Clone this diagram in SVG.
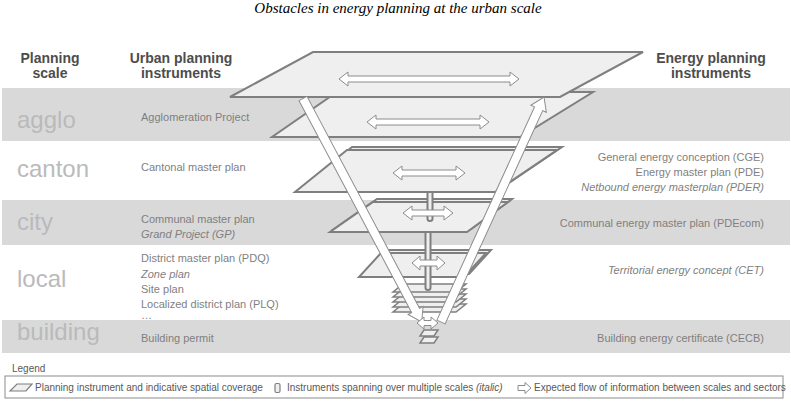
<svg xmlns="http://www.w3.org/2000/svg" width="791" height="402" viewBox="0 0 791 402">
<style>
.band{fill:#d9d9d9}
.pl{fill:#efefef;stroke:#7f7f7f;stroke-width:2;stroke-linejoin:miter}
.pt{fill:#efefef;stroke:#7f7f7f;stroke-width:1.5}
.pil{fill:#efefef;stroke:#7f7f7f;stroke-width:2}
.arr{fill:#fff;stroke:#8c8c8c;stroke-width:1;stroke-linejoin:miter}
text{font-family:"Liberation Sans",Arial,sans-serif}
.title{font-family:"Liberation Serif","Times New Roman",serif;font-style:italic;font-size:15px;fill:#000}
.hdr{font-weight:bold;font-size:14px;fill:#4d4d4d;text-anchor:middle}
.scale{font-size:24px;fill:#bababa}
.inst{font-size:11px;fill:#7f7f7f}
.r{text-anchor:end}
.it{font-style:italic}
.leg{font-size:10px;fill:#595959}
</style>
<g id="bands">
<rect class="band" x="2" y="88" width="788" height="53"/>
<rect class="band" x="2" y="200" width="788" height="45"/>
<rect class="band" x="2" y="320" width="788" height="33"/>
</g>
<text class="title" x="398" y="13" text-anchor="middle">Obstacles in energy planning at the urban scale</text>
<g id="headers">
<text class="hdr" x="50" y="63">Planning</text>
<text class="hdr" x="50" y="78">scale</text>
<text class="hdr" x="181" y="63">Urban planning</text>
<text class="hdr" x="181" y="78">instruments</text>
<text class="hdr" x="711" y="63">Energy planning</text>
<text class="hdr" x="711" y="78">instruments</text>
</g>
<g id="scales">
<text class="scale" x="17" y="128">agglo</text>
<text class="scale" x="17" y="177">canton</text>
<text class="scale" x="17" y="230">city</text>
<text class="scale" x="17" y="287">local</text>
<text class="scale" x="17" y="340">building</text>
</g>
<g id="urban-instruments">
<text class="inst" x="141" y="121">Agglomeration Project</text>
<text class="inst" x="141" y="171">Cantonal master plan</text>
<text class="inst" x="141" y="223">Communal master plan</text>
<text class="inst it" x="141" y="238">Grand Project (GP)</text>
<text class="inst" x="141" y="262">District master plan (PDQ)</text>
<text class="inst it" x="141" y="278">Zone plan</text>
<text class="inst" x="141" y="293">Site plan</text>
<text class="inst" x="141" y="308">Localized district plan (PLQ)</text>
<text class="inst" x="141" y="319" font-size="9">…</text>
<text class="inst" x="141" y="342">Building permit</text>
</g>
<g id="energy-instruments">
<text class="inst r" x="764" y="161">General energy conception (CGE)</text>
<text class="inst r" x="764" y="176">Energy master plan (PDE)</text>
<text class="inst r it" x="764" y="191">Netbound energy masterplan (PDER)</text>
<text class="inst r" x="764" y="227">Communal energy master plan (PDEcom)</text>
<text class="inst r it" x="764" y="274">Territorial energy concept (CET)</text>
<text class="inst r" x="764" y="342">Building energy certificate (CECB)</text>
</g>
<g id="plane-building">
<polygon class="pt" points="424,330 438,330 434,336 420,336"/>
<polygon class="pt" points="424,337 438,337 434,343 420,343"/>
</g>
<g id="plane-local-sub">
<polygon class="pt" points="403,304 466,304 456,312 393,312"/>
<polygon class="pt" points="403,299 466,299 456,307 393,307"/>
<polygon class="pt" points="403,294 466,294 456,302 393,302"/>
<polygon class="pt" points="403,289 466,289 456,297 393,297"/>
<polygon class="pt" points="403,284 466,284 456,292 393,292"/>
</g>
<g id="plane-local">
<polygon class="pl" points="386,250 491,250 469,274 364,274"/>
<polygon class="pl" points="381,253 486,253 464,277 359,277"/>
</g>
<rect id="pillar-lower" class="pil" x="425.5" y="228" width="5" height="62" rx="2.5"/>
<g id="plane-city">
<polygon class="pl" points="377,199 512,199 471,229 334,229"/>
<polygon class="pl" points="373,202 508,202 467,232 330,232"/>
</g>
<rect id="pillar-upper" class="pil" x="427.5" y="188" width="5" height="33" rx="2.5"/>
<g id="plane-canton">
<polygon class="pl" points="352,147 562,147 500,189 300,189"/>
<polygon class="pl" points="347,150 557,150 495,192 295,192"/>
</g>
<g id="plane-agglo">
<polygon class="pl" points="337,92 593,92 520,137 272,137"/>
</g>
<g id="plane-top">
<polygon class="pl" points="313,52 643,52 560,97 230,97"/>
</g>
<g id="connectors">
<path class="arr" transform="translate(303,98.5) rotate(62.02)" d="M0,-4.5 H240 V-8.5 L253,0 L240,8.5 V4.5 H0 Z"/>
<path class="arr" transform="translate(441,322) rotate(-65.4)" d="M0,-4.5 H234.5 V-8.5 L247.5,0 L234.5,8.5 V4.5 H0 Z"/>
<path class="arr" d="M339,79 L348,72 V76 H510 V72 L519,79 L510,86 V82 H348 V86 Z"/>
<path class="arr" d="M367,122 L376,115 V119 H480 V115 L489,122 L480,129 V125 H376 V129 Z"/>
<path class="arr" d="M393,173 L402,166 V170 H456 V166 L465,173 L456,180 V176 H402 V180 Z"/>
<path class="arr" d="M403,213 L412,206 V210 H444 V206 L453,213 L444,220 V216 H412 V220 Z"/>
<path class="arr" d="M412,263 L420,256 V260 H437 V256 L445,263 L437,270 V266 H420 V270 Z"/>
<path class="arr" d="M417,323 L424,317 V320.5 H431 V317 L438,323 L431,329 V325.5 H424 V329 Z"/>
</g>
<g id="legend">
<text class="leg" x="12" y="372">Legend</text>
<rect x="5" y="376" width="778" height="22" fill="#fff" stroke="#8c8c8c" stroke-width="1"/>
<polygon points="17,384 32,384 26,391 10,391" fill="#efefef" stroke="#7f7f7f" stroke-width="1.2"/>
<text class="leg" x="35" y="391">Planning instrument and indicative spatial coverage</text>
<rect x="275" y="383.5" width="5" height="9" rx="1.5" fill="#efefef" stroke="#7f7f7f" stroke-width="1.2"/>
<text class="leg" x="287" y="391">Instruments spanning over multiple scales <tspan class="it">(italic)</tspan></text>
<path class="arr" d="M518,385.5 H525 V382.5 L531,388 L525,393.5 V390.5 H518 Z"/>
<text class="leg" x="534" y="391">Expected flow of information between scales and sectors</text>
</g>
</svg>
